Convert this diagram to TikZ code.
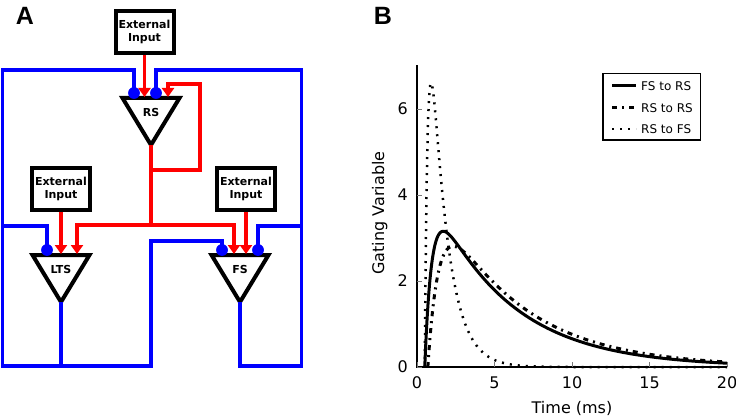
\documentclass[tikz,border=0pt]{standalone}
\usepackage{fontspec}
\setmainfont{DejaVu Sans}
\newfontfamily\panelfont{Liberation Sans}
\usepackage{tikz}
\usetikzlibrary{arrows.meta}
\definecolor{nwedge}{RGB}{0,0,0}
\definecolor{nwexc}{RGB}{255,0,0}
\definecolor{nwinh}{RGB}{0,0,255}
\definecolor{nwtick}{RGB}{120,120,120}
\tikzset{
  inbox/.style={
    draw=nwedge, line width=4pt, fill=white, align=center, inner sep=0pt,
    minimum width=58pt, minimum height=42pt,
    font=\bfseries\fontsize{11}{13.5}\selectfont
  },
  cell/.style={draw=nwedge, line width=4pt},
  cellname/.style={font=\bfseries\fontsize{11}{12}\selectfont, inner sep=0pt},
  exc/.style={draw=nwexc, line width=3.3pt, -{Triangle[length=9pt,width=12pt]}},
  excline/.style={draw=nwexc, line width=3.3pt},
  inh/.style={draw=nwinh, line width=3.3pt},
  syn/.style={circle, fill=nwinh, inner sep=0pt, minimum size=11.5pt},
  panel/.style={font=\panelfont\bfseries\fontsize{25}{25}\selectfont, inner sep=0pt},
  axisline/.style={draw=nwedge, line width=1.5pt},
  tickmark/.style={draw=nwtick, line width=0.8pt},
  ticklab/.style={font=\fontsize{16}{16}\selectfont, inner sep=0pt},
  axlab/.style={font=\fontsize{16}{16}\selectfont, inner sep=0pt},
  legbox/.style={draw=nwedge, line width=1.5pt, minimum width=97.5pt, minimum height=66.5pt, inner sep=0pt},
  legtext/.style={font=\fontsize{12}{12}\selectfont, inner sep=0pt, anchor=west},
  fsrs/.style={draw=nwedge, line width=3pt},
  rsrs/.style={draw=nwedge, line width=3pt, dash pattern=on 5pt off 5pt on 2pt off 5pt},
  rsfs/.style={draw=nwedge, line width=2.5pt, dash pattern=on 2pt off 6pt}
}

\begin{document}
\begin{tikzpicture}[x=1pt, y=-1pt]
  \useasboundingbox (0,0) rectangle (736,417);

  % panel A: network
  \node[panel] (pa) at (25,16) {A};
  \node[inbox] (ext1) at (144.5,32) {External\\Input};
  \node[inbox] (ext2) at (61,189) {External\\Input};
  \node[inbox] (ext3) at (246,189) {External\\Input};

  \foreach \n/\cx/\cy in {RS/151/98, LTS/61/255, FS/240/255} {
    \draw[cell] (\cx-28.5,\cy) -- (\cx+28.5,\cy) -- (\cx,\cy+47) -- cycle;
    \node[cellname] (\n) at (\cx,\cy+14) {\n};
    \coordinate (\n-out) at (\cx,\cy+47);
  }

  \coordinate (rs-e1) at (144.5,97);
  \coordinate (rs-e2) at (168,97);
  \coordinate (lts-e1) at (61,254);
  \coordinate (lts-e2) at (77,254);
  \coordinate (fs-e1) at (234,254);
  \coordinate (fs-e2) at (246,254);
  \coordinate (rs-tap) at (151,170);
  \coordinate (rs-hub) at (151,225);
  \coordinate (loop) at (200,84);
  \coordinate (jl) at (2.5,226);
  \coordinate (jr) at (301.5,226);
  \coordinate (jb) at (61,366);
  \coordinate (bl) at (2.5,366);
  \coordinate (br) at (301.5,366);
  \coordinate (tl) at (2.5,70);
  \coordinate (tr) at (301.5,70);
  \coordinate (mid) at (151,241);

  % inhibitory
  \node[syn] (rs-i1) at (134,93) {};
  \node[syn] (rs-i2) at (156,93) {};
  \node[syn] (lts-i1) at (47,250) {};
  \node[syn] (fs-i1) at (222,250) {};
  \node[syn] (fs-i2) at (258,250) {};
  \draw[inh] (rs-i1.center) |- (tl) -- (bl) -| (mid) -| (fs-i1.center);
  \draw[inh] (LTS-out) -- (jb);
  \draw[inh] (jl) -| (lts-i1.center);
  \draw[inh] (rs-i2.center) |- (tr) -- (br) -| (FS-out);
  \draw[inh] (jr) -| (fs-i2.center);
  \foreach \s in {rs-i1,rs-i2,lts-i1,fs-i1,fs-i2}
    \node[syn] at (\s) {};

  % excitatory
  \draw[exc] (ext1) -- (rs-e1);
  \draw[exc] (ext2) -- (lts-e1);
  \draw[exc] (ext3) -- (fs-e2);
  \draw[excline] (RS-out) -- (rs-hub);
  \draw[exc] (rs-tap) -| (loop) -| (rs-e2);
  \draw[exc] (rs-hub) -| (lts-e2);
  \draw[exc] (rs-hub) -| (fs-e1);

  % panel B: gating variable
  \node[panel] (pb) at (383,16) {B};
  \begin{scope}[shift={(417,367)}, x=15.5pt, y=43pt]
    \draw[axisline] (0,7.02) -- (0,0) -- (20,0);
    \foreach \t in {0,5,10,15,20} {
      \draw[tickmark] (\t,0) -- (\t,0.11);
      \node[ticklab, anchor=north] (xt\t) at (\t,-0.23) {\t};
    }
    \foreach \v in {0,2,4,6} {
      \draw[tickmark] (0,\v) -- (0.32,\v);
      \node[ticklab, anchor=east] (yt\v) at (-0.58,\v) {\v};
    }
    \draw[rsfs] plot[domain=0.5:20, samples=500, smooth]
      (\x, {12.05*(exp(-(\x-0.5)/1.05)-exp(max(-(\x-0.5)/0.2,-9)))});
    \draw[rsrs] plot[domain=0.7:20, samples=300, smooth]
      (\x, {4.4*(exp(-(\x-0.7)/5.3)-exp(max(-(\x-0.7)/0.7,-9)))});
    \draw[fsrs] plot[domain=0.5:20, samples=300, smooth]
      (\x, {4.4*(exp(-(\x-0.5)/5.0)-exp(max(-(\x-0.5)/0.45,-9)))});
  \end{scope}
  \node[axlab, anchor=base] (xlab) at (572,413) {Time (ms)};
  \node[axlab, anchor=base, rotate=90] (ylab) at (384,213) {Gating Variable};

  % legend
  \node[legbox] (leg) at (651.5,107) {};
  \draw[fsrs] (612,86) -- (636,86);
  \draw[rsrs] (612,108) -- (636,108);
  \draw[rsfs] (612,129) -- (636,129);
  \node[legtext] (lg1) at (641,86) {FS to RS};
  \node[legtext] (lg2) at (641,108) {RS to RS};
  \node[legtext] (lg3) at (641,129) {RS to FS};
\end{tikzpicture}
\end{document}
